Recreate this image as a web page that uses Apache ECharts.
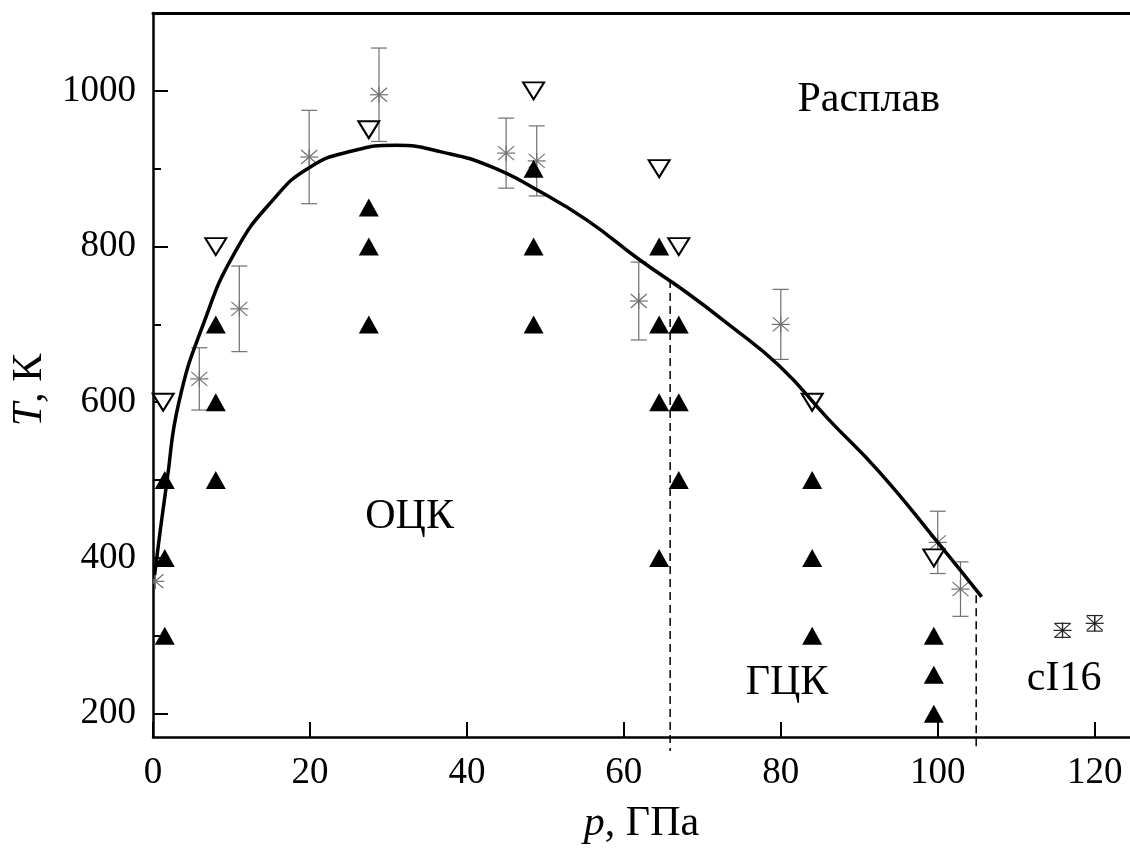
<!DOCTYPE html>
<html><head><meta charset="utf-8">
<script src="https://cdn.jsdelivr.net/npm/echarts@6/dist/echarts.min.js"></script>
<style>html,body{margin:0;padding:0;background:#fff}#c{width:1130px;height:848px}</style>
</head><body><div id="c"></div>
<script>
// ---- data ----
const xTicks = [0, 20, 40, 60, 80, 100, 120];
const yTicks = [200, 400, 600, 800, 1000];
const yMinorTicks = [300, 500, 700, 900];

// melting curve (p, T)
const meltCurve = [
  [0.2, 378], [1.8, 500], [3.3, 600], [6.4, 700], [10.4, 792], [15.3, 860],
  [20, 902], [25.5, 923], [31, 930], [37, 921], [43, 903], [48.9, 873],
  [55.3, 834], [62, 783], [68, 741], [73.1, 702], [79.9, 646], [86, 579],
  [92.6, 510], [100, 420], [105.6, 350]
];

// solid-phase points (filled triangles)
const solidPoints = [
  [1.5, 500], [1.5, 400], [1.5, 300],
  [8, 700], [8, 600], [8, 500],
  [27.5, 850], [27.5, 800], [27.5, 700],
  [48.5, 900], [48.5, 800], [48.5, 700],
  [64.5, 800], [64.5, 700], [64.5, 600], [64.5, 400],
  [67, 700], [67, 600], [67, 500],
  [84, 500], [84, 400], [84, 300],
  [99.5, 300], [99.5, 250], [99.5, 200]
];

// liquid points (open inverted triangles)
const liquidPoints = [
  [1.3, 600], [8, 800], [27.5, 950], [48.5, 1000],
  [64.5, 900], [67, 800], [84, 600], [99.5, 400]
];

// melting points with error bars: [p, T, error]
const meltExp = [
  [0.3, 370, 0], [5.9, 630, 40], [11, 720, 55], [19.9, 915, 60],
  [28.8, 995, 60], [45, 920, 45], [48.9, 910, 45], [61.9, 730, 50],
  [80, 700, 45], [100, 420, 40], [102.9, 360, 35]
];
const cI16Exp = [[115.9, 307, 9], [120, 316, 10]];

// phase boundaries (dashed)
const boundaryBccFcc = [[65.9, 757], [65.9, 152]];
const boundaryFccCI16 = [[104.9, 352], [104.9, 152]];

// region labels
const regionLabels = [
  { name: 'Расплав', value: [91.2, 988] },
  { name: 'ОЦК', value: [32.7, 453] },
  { name: 'ГЦК', value: [80.8, 240] },
  { name: 'cI16', value: [116.1, 245] }
];

// ---- chart ----
const FONT = 'Liberation Serif';
function starRenderer(color) {
  return function (params, api) {
    const x = api.value(0), y = api.value(1), e = api.value(2);
    const c = api.coord([x, y]);
    const ls = { stroke: color, lineWidth: 1.2, fill: null };
    const ch = [];
    const L = (x1, y1, x2, y2) => ch.push({ type: 'line', shape: { x1, y1, x2, y2 }, style: ls });
    if (e > 0) {
      const t = api.coord([x, y + e]), b = api.coord([x, y - e]);
      L(c[0], t[1], c[0], b[1]);
      L(c[0] - 8, t[1], c[0] + 8, t[1]);
      L(c[0] - 8, b[1], c[0] + 8, b[1]);
    }
    L(c[0] - 9, c[1], c[0] + 9, c[1]);
    L(c[0] - 8, c[1] - 7, c[0] + 8, c[1] + 7);
    L(c[0] - 8, c[1] + 7, c[0] + 8, c[1] - 7);
    L(c[0], c[1] - 8, c[0], c[1] + 8);
    return { type: 'group', children: ch };
  };
}

const chart = echarts.init(document.getElementById('c'), null, { renderer: 'canvas' });
chart.setOption({
  animation: false,
  backgroundColor: '#fff',
  grid: { left: 153, right: 0, top: 13, bottom: 111, containLabel: false, outerBoundsMode: 'none' },
  xAxis: [{
    type: 'value', min: 0, max: 124.5, position: 'bottom',
    name: '{i|p}, ГПа', nameLocation: 'middle', nameGap: 66,
    nameTextStyle: { fontFamily: FONT, fontSize: 42, color: '#000',
      rich: { i: { fontFamily: FONT, fontSize: 42, fontStyle: 'italic', color: '#000' } } },
    axisLine: { show: true, onZero: false, lineStyle: { color: '#000', width: 2.5 } },
    axisTick: { show: true, inside: true, length: 15, customValues: xTicks, lineStyle: { color: '#000', width: 2 } },
    axisLabel: { customValues: xTicks, margin: 18, fontFamily: FONT, fontSize: 37, color: '#000', formatter: v => String(v) },
    splitLine: { show: false }
  }, {
    type: 'value', min: 0, max: 124.5, position: 'top',
    axisLine: { show: true, onZero: false, lineStyle: { color: '#000', width: 3 } },
    axisTick: { show: false }, axisLabel: { show: false }, splitLine: { show: false }
  }],
  yAxis: [{
    type: 'value', min: 170, max: 1100, position: 'left',
    name: '{i|T}, К', nameLocation: 'middle', nameGap: 98,
    nameTextStyle: { fontFamily: FONT, fontSize: 42, color: '#000', padding: [0, 30, 0, 0],
      rich: { i: { fontFamily: FONT, fontSize: 42, fontStyle: 'italic', color: '#000' } } },
    axisLine: { show: true, onZero: false, lineStyle: { color: '#000', width: 2.5 } },
    axisTick: { show: true, inside: true, length: 15, customValues: yTicks, lineStyle: { color: '#000', width: 2 } },
    axisLabel: { customValues: yTicks, margin: 17, fontFamily: FONT, fontSize: 37, color: '#000', formatter: v => String(v) },
    splitLine: { show: false }
  }, {
    type: 'value', min: 170, max: 1100, position: 'left', offset: 0,
    axisLine: { show: false },
    axisTick: { show: true, inside: true, length: 8, customValues: yMinorTicks, lineStyle: { color: '#000', width: 2 } },
    axisLabel: { show: false }, splitLine: { show: false }
  }],
  series: [
    {
      type: 'line', data: boundaryBccFcc, showSymbol: false, clip: false, silent: true,
      lineStyle: { color: '#000', width: 1.5, type: [8, 5] }
    },
    {
      type: 'line', data: boundaryFccCI16, showSymbol: false, clip: false, silent: true,
      lineStyle: { color: '#000', width: 1.5, type: [8, 5] }
    },
    {
      type: 'custom', data: meltExp, renderItem: starRenderer('#707070'), clip: true,
      encode: { x: 0, y: 1 }, silent: true
    },
    {
      type: 'custom', data: cI16Exp, renderItem: starRenderer('#222'), clip: true,
      encode: { x: 0, y: 1 }, silent: true
    },
    {
      type: 'scatter', data: liquidPoints, symbol: 'triangle', symbolRotate: 180, symbolSize: [21, 17],
      itemStyle: { color: '#fff', borderColor: '#000', borderWidth: 2, opacity: 1 }, silent: true
    },
    {
      type: 'line', data: meltCurve, smooth: 0.5, showSymbol: false, silent: true,
      lineStyle: { color: '#000', width: 3.5 }, z: 3
    },
    {
      type: 'scatter', data: solidPoints, symbol: 'triangle', symbolSize: [20, 18],
      itemStyle: { color: '#000', opacity: 1 }, silent: true, z: 4
    },
    {
      type: 'scatter', data: regionLabels, symbolSize: 1, itemStyle: { color: 'transparent', opacity: 1 }, silent: true,
      label: { show: true, position: 'inside', formatter: '{b}', fontFamily: FONT, fontSize: 42, color: '#000' }
    }
  ]
});
</script>
</body></html>
